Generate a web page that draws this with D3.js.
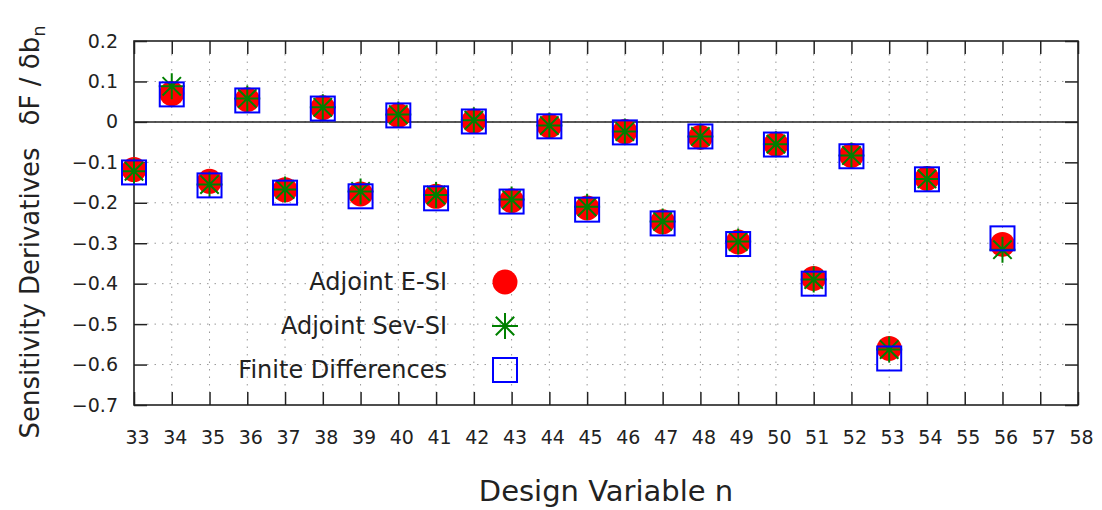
<!DOCTYPE html>
<html>
<head>
<meta charset="utf-8">
<script src="https://cdn.jsdelivr.net/npm/d3@7"></script>
<style>
  body { margin: 0; background: #fff; }
  text { font-family: "DejaVu Sans", sans-serif; fill: #222; }
</style>
</head>
<body>
<div id="chart"></div>
<script>
// design variables (x) and the three sensitivity series
var designVars = [33, 34, 35, 36, 37, 38, 39, 40, 41, 42, 43, 44, 45, 46, 47, 48, 49, 50, 51, 52, 53, 54, 56];
var adjointESI = [-0.118, 0.070, -0.147, 0.055, -0.168, 0.035, -0.178, 0.016, -0.184, 0.002, -0.195, -0.010,
                  -0.213, -0.024, -0.247, -0.038, -0.297, -0.055, -0.387, -0.083, -0.560, -0.140, -0.303];
var adjointSevSI = [-0.122, 0.088, -0.155, 0.058, -0.167, 0.036, -0.172, 0.018, -0.181, 0.004, -0.192, -0.009,
                    -0.210, -0.024, -0.246, -0.036, -0.296, -0.055, -0.390, -0.083, -0.563, -0.141, -0.316];
var finiteDiff = [-0.125, 0.068, -0.157, 0.053, -0.175, 0.033, -0.184, 0.016, -0.189, 0.001, -0.197, -0.011,
                  -0.217, -0.026, -0.251, -0.036, -0.302, -0.056, -0.400, -0.085, -0.585, -0.142, -0.288];
var xTicks = d3.range(33, 59);
var yTicks = [0.2, 0.1, 0, -0.1, -0.2, -0.3, -0.4, -0.5, -0.6, -0.7];
var legendNames = ["Adjoint E-SI", "Adjoint Sev-SI", "Finite Differences"];

var W = 1102, H = 510;
// plot box (note: "top" is taken by window.top)
var pLeft = 134, pRight = 1078, pTop = 41, pBottom = 405;
var tickLen = 13;

var svg = d3.select("#chart").append("svg")
  .attr("width", W).attr("height", H);

var x = d3.scaleLinear().domain([33, 58]).range([pLeft, pRight]);
var y = d3.scaleLinear().domain([-0.7, 0.2]).range([pBottom, pTop]);

// dotted grid
var grid = svg.append("g").attr("class", "grid")
  .attr("stroke", "#999").attr("stroke-width", 1).attr("stroke-dasharray", "1.5,6");
grid.selectAll("line.gx").data(xTicks.slice(1, -1)).enter().append("line")
  .attr("x1", function(d) { return x(d); }).attr("x2", function(d) { return x(d); })
  .attr("y1", pTop + tickLen).attr("y2", pBottom - tickLen);
grid.selectAll("line.gy").data(yTicks.slice(1, -1)).enter().append("line")
  .attr("y1", function(d) { return y(d); }).attr("y2", function(d) { return y(d); })
  .attr("x1", pLeft + tickLen).attr("x2", pRight - tickLen);

// zero line
svg.append("line")
  .attr("x1", pLeft).attr("x2", pRight).attr("y1", y(0)).attr("y2", y(0))
  .attr("stroke", "#222").attr("stroke-width", 1.5);

// axes, ticks inward and mirrored
var axisB = d3.axisBottom(x).tickValues(xTicks).tickSize(-tickLen).tickPadding(26).tickFormat(d3.format("d"));
var axisT = d3.axisTop(x).tickValues(xTicks).tickSize(-tickLen).tickFormat("");
var axisL = d3.axisLeft(y).tickValues(yTicks).tickSize(-tickLen).tickPadding(16).tickFormat(function(d) { return d === 0 ? "0" : d3.format(".1f")(d); });
var axisR = d3.axisRight(y).tickValues(yTicks).tickSize(-tickLen).tickFormat("");

function styleAxis(g) {
  g.select(".domain").remove();
  g.selectAll(".tick line").attr("stroke", "#222").attr("stroke-width", 1.5);
  g.selectAll(".tick text").style("font-family", "DejaVu Sans").style("font-size", "19px").attr("fill", "#222");
}
svg.append("g").attr("transform", "translate(0," + pBottom + ")").call(axisB).call(styleAxis)
  .selectAll(".tick text").attr("dx", 3);
svg.append("g").attr("transform", "translate(0," + pTop + ")").call(axisT).call(styleAxis);
svg.append("g").attr("transform", "translate(" + pLeft + ",0)").call(axisL).call(styleAxis);
svg.append("g").attr("transform", "translate(" + pRight + ",0)").call(axisR).call(styleAxis);

// border
svg.append("rect")
  .attr("x", pLeft).attr("y", pTop).attr("width", pRight - pLeft).attr("height", pBottom - pTop)
  .attr("fill", "none").attr("stroke", "#222").attr("stroke-width", 1.6);

// markers
var r = 12.5, starR = 13, half = 12;
function drawCircle(g, cx, cy) {
  g.append("circle").attr("cx", cx).attr("cy", cy).attr("r", r).attr("fill", "#ff0000");
}
function drawStar(g, cx, cy) {
  var d = starR * Math.SQRT1_2;
  var p = "M" + cx + "," + (cy - starR) + "V" + (cy + starR) +
          "M" + (cx - starR) + "," + cy + "H" + (cx + starR) +
          "M" + (cx - d) + "," + (cy - d) + "L" + (cx + d) + "," + (cy + d) +
          "M" + (cx - d) + "," + (cy + d) + "L" + (cx + d) + "," + (cy - d);
  g.append("path").attr("d", p).attr("stroke", "#008000").attr("stroke-width", 2).attr("fill", "none");
}
function drawSquare(g, cx, cy) {
  g.append("rect").attr("x", cx - half).attr("y", cy - half).attr("width", 2 * half).attr("height", 2 * half)
    .attr("fill", "none").attr("stroke", "#0000ff").attr("stroke-width", 2);
}

var series = [
  {vals: adjointESI, draw: drawCircle},
  {vals: adjointSevSI, draw: drawStar},
  {vals: finiteDiff, draw: drawSquare}
];
series.forEach(function(s) {
  var g = svg.append("g");
  designVars.forEach(function(n, i) { s.draw(g, x(n), y(s.vals[i])); });
});

// legend
var legY = [282, 326, 370];
legendNames.forEach(function(name, i) {
  svg.append("text").attr("x", 447).attr("y", legY[i]).attr("dy", "0.35em")
    .attr("text-anchor", "end").style("font-size", "24px").text(name);
  series[i].draw(svg.append("g"), 505, legY[i]);
});

// axis titles
var yl = svg.append("text")
  .attr("transform", "translate(39,232) rotate(-90)")
  .attr("text-anchor", "middle").style("font-size", "26px");
yl.append("tspan").text("Sensitivity Derivatives");
yl.append("tspan").attr("dx", 22).text("δF / δb");
yl.append("tspan").attr("dy", 6).style("font-size", "18px").text("n");

svg.append("text").attr("x", (pLeft + pRight) / 2).attr("y", 501)
  .attr("text-anchor", "middle").style("font-size", "29px").text("Design Variable n");
</script>
</body>
</html>
